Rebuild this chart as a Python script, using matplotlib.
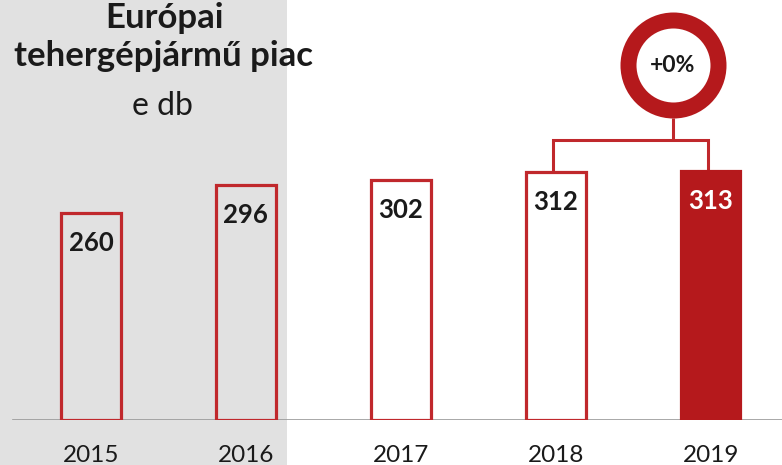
import matplotlib
matplotlib.use("Agg")
import matplotlib.pyplot as plt

years = ["2015", "2016", "2017", "2018", "2019"]
values = [260, 296, 302, 312, 313]
change_label = "+0%"
title_lines = ["Európai", "tehergépjármű piac"]
unit_label = "e db"

RED = "#B5191C"
EDGE = "#C0282C"
GRAY_BG = "#E1E1E1"
TXT = "#1A1A1A"

plt.rcParams["font.family"] = ["Lato", "DejaVu Sans"]

W, H = 782, 465
fig = plt.figure(figsize=(W / 100, H / 100), dpi=100)
fig.patch.set_facecolor("white")

base_px = 45  # baseline from bottom
ax = fig.add_axes([0, base_px / H, 1, (H - base_px) / H])
ax.set_facecolor("none")
px_per_unit = 0.795
x0 = 91.0
step = 154.9
ax.set_xlim((0 - x0) / step, (W - x0) / step)
ax.set_ylim(0, (H - base_px) / px_per_unit)
for s in ax.spines.values():
    s.set_visible(False)
ax.set_yticks([])

# gray shaded region behind 2015-2016
ax.axvspan((0 - x0) / step, (287 - x0) / step, ymin=-base_px / (H - base_px), ymax=1,
           color=GRAY_BG, zorder=0, clip_on=False, lw=0)

# baseline
ax.axhline(0, xmin=13 / W, xmax=1, color="#9A9A9A", lw=1.2, zorder=1)

xs = list(range(len(years)))
faces = ["none", "none", "white", "white", RED]
bars = ax.bar(xs, values, width=0.385, facecolor="none", edgecolor=EDGE,
              linewidth=2.3, zorder=3)
for b, fc in zip(bars, faces):
    b.set_facecolor(fc)
    if fc == RED:
        b.set_edgecolor(RED)

for i, v in enumerate(values):
    ax.annotate(str(v), xy=(i, v), xytext=(0, -30), textcoords="offset pixels",
                ha="center", va="center", fontsize=18.5, fontweight="bold",
                color="white" if i == len(values) - 1 else TXT, zorder=4)

ax.set_xticks(xs)
ax.set_xticklabels(years, fontsize=17.5, color=TXT)
ax.tick_params(axis="x", length=0, pad=18)

# bracket + change circle
circ_x = 3.757
circ_y = (H - base_px - 65) / px_per_unit
bracket_y = (H - base_px - 140) / px_per_unit
circ_bottom = circ_y - 53 / px_per_unit
ax.plot([circ_x, circ_x], [circ_bottom, bracket_y], color=EDGE, lw=2.2, zorder=2,
        solid_capstyle="butt")
ax.plot([xs[3] - 0.02, xs[3] - 0.02, xs[4] - 0.02, xs[4] - 0.02],
        [values[3], bracket_y, bracket_y, values[4]], color=EDGE, lw=2.2, zorder=2,
        solid_joinstyle="miter", clip_on=False)
ax.plot([circ_x], [circ_y], marker="o", markersize=90 * 0.72,
        markerfacecolor="white", markeredgecolor=RED, markeredgewidth=16 * 0.72,
        zorder=5, clip_on=False)
ax.text(circ_x, circ_y, change_label, ha="center", va="center", fontsize=16.5,
        fontweight="bold", color=TXT, zorder=6)

# titles
fig.text(164 / W, 1 - 28 / H, title_lines[0], ha="center", va="baseline",
         fontsize=25, fontweight="bold", color=TXT)
fig.text(164 / W, 1 - 66 / H, title_lines[1], ha="center", va="baseline",
         fontsize=25, fontweight="bold", color=TXT)
fig.text(162 / W, 1 - 115 / H, unit_label, ha="center", va="baseline",
         fontsize=23, color=TXT)

fig.savefig("out.png", dpi=100)
